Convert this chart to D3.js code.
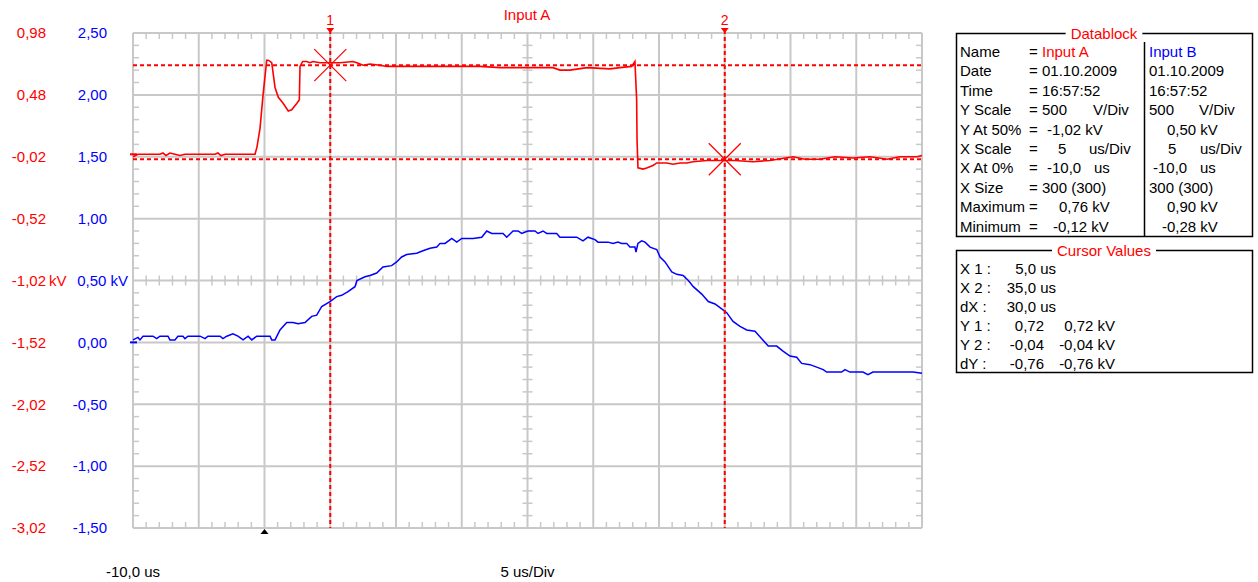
<!DOCTYPE html>
<html lang="en">
  <head>
    <meta charset="UTF-8" />
    <script src="https://d3js.org/d3.v7.min.js"></script>
    <title>Input A</title>
    <style>
      body { margin: 0; background: #fff; }
      svg text { font-family: "Liberation Sans", Arial, sans-serif; font-size: 15px; }
    </style>
  </head>
  <body>
    <svg id="scope" width="1258" height="582"></svg>
    <script>
      // trace A (red), time in us, value in kV
      const timeA = [-10.0, -9.62, -7.95, -7.72, -7.49, -7.19, -6.81, -6.43, -6.05, -5.06, -3.76, -3.54, -3.31, -3.0, -0.72,
        -0.57, -0.34, -0.11, 0.17, 0.29, 0.55, 0.8, 1.05, 1.43, 1.81, 2.07, 2.45, 2.65, 2.7, 2.9, 3.21, 3.46, 3.69,
        4.22, 4.73, 5.21, 5.74, 6.73, 7.03, 7.49, 8.02, 8.78, 9.29, 11.83, 14.11, 16.39, 17.91, 19.43, 21.94, 22.47,
        23.23, 24.52, 26.27, 27.03, 27.92, 28.17, 28.3, 28.33, 28.4, 28.78, 29.06, 29.54, 29.83, 30.59, 31.06, 31.6,
        32.11, 32.59, 33.63, 34.64, 35.78, 37.15, 38.44, 40.19, 41.1, 42.24, 43.38, 44.75, 46.05, 47.34, 48.33, 49.62, 50.0];
      const valueA = [-0.02, 0.0, 0.0, 0.01, -0.01, 0.01, 0.0, -0.01, 0.0, 0.0, 0.0, 0.01, -0.01, 0.0, 0.0,
        0.06, 0.21, 0.48, 0.76, 0.76, 0.74, 0.54, 0.46, 0.41, 0.35, 0.36, 0.41, 0.44, 0.71, 0.75, 0.75, 0.74, 0.75,
        0.74, 0.74, 0.74, 0.74, 0.75, 0.74, 0.72, 0.73, 0.72, 0.71, 0.71, 0.71, 0.71, 0.7, 0.7, 0.7, 0.68,
        0.68, 0.7, 0.69, 0.7, 0.71, 0.75, 0.44, 0.12, -0.11, -0.12, -0.11, -0.09, -0.07, -0.07, -0.08, -0.07,
        -0.07, -0.06, -0.05, -0.05, -0.05, -0.06, -0.05, -0.02, -0.04, -0.04, -0.02, -0.03, -0.02, -0.04, -0.02, -0.02, -0.01];

      // trace B (blue)
      const timeB = [-10.0, -9.62, -9.47, -9.24, -8.48, -8.2, -7.95, -7.34, -7.19, -6.81, -6.58, -6.2, -6.05, -5.82, -4.9,
        -4.52, -4.3, -3.38, -3.16, -2.87, -2.4, -2.02, -1.63, -1.25, -0.97, -0.59, 0.42, 0.55, 0.8, 1.18, 1.69, 2.17,
        2.55, 3.08, 3.59, 3.97, 4.35, 4.98, 5.49, 5.87, 6.35, 6.88, 7.03, 7.64, 8.02, 8.53, 9.01, 9.67, 10.05, 10.43,
        10.81, 11.57, 12.05, 12.59, 13.1, 13.35, 13.73, 14.24, 14.62, 15.0, 15.86, 16.52, 16.9, 17.28, 18.14, 18.42,
        18.9, 19.28, 19.56, 20.04, 20.57, 20.8, 21.18, 21.46, 22.22, 22.47, 23.74, 24.22, 24.6, 24.88, 25.13, 25.36,
        26.12, 26.5, 26.88, 27.16, 27.54, 27.79, 28.17, 28.25, 28.4, 28.68, 28.94, 29.32, 29.83, 30.08, 30.46, 30.97,
        31.35, 31.83, 32.23, 32.61, 33.25, 33.75, 34.26, 34.64, 35.15, 35.63, 36.16, 36.67, 37.3, 37.81, 38.31, 38.95,
        39.43, 39.96, 40.47, 40.85, 41.48, 41.99, 42.49, 42.75, 43.89, 44.14, 44.52, 45.51, 45.89, 46.27, 47.31, 48.33,
        49.32, 50.0];
      const valueB = [0.02, 0.04, 0.02, 0.05, 0.05, 0.03, 0.05, 0.05, 0.02, 0.02, 0.05, 0.05, 0.03, 0.05, 0.05,
        0.03, 0.05, 0.05, 0.03, 0.05, 0.07, 0.05, 0.02, 0.05, 0.02, 0.05, 0.05, 0.02, 0.02, 0.1, 0.16, 0.16,
        0.15, 0.16, 0.21, 0.22, 0.29, 0.33, 0.37, 0.38, 0.41, 0.45, 0.5, 0.53, 0.54, 0.56, 0.61, 0.62, 0.65, 0.69,
        0.71, 0.72, 0.74, 0.76, 0.77, 0.8, 0.8, 0.84, 0.81, 0.84, 0.84, 0.85, 0.9, 0.88, 0.88, 0.85,
        0.9, 0.9, 0.88, 0.9, 0.9, 0.88, 0.9, 0.88, 0.88, 0.85, 0.85, 0.82, 0.85, 0.84, 0.83, 0.81,
        0.81, 0.8, 0.81, 0.8, 0.8, 0.77, 0.77, 0.73, 0.8, 0.82, 0.81, 0.77, 0.75, 0.69, 0.65, 0.57,
        0.55, 0.54, 0.5, 0.45, 0.39, 0.33, 0.31, 0.28, 0.24, 0.17, 0.13, 0.1, 0.09, 0.03, -0.03, -0.03,
        -0.07, -0.11, -0.12, -0.17, -0.18, -0.2, -0.22, -0.24, -0.24, -0.22, -0.24, -0.24, -0.26, -0.24, -0.24, -0.24,
        -0.24, -0.25];

      const ticksA = [0.98, 0.48, -0.02, -0.52, -1.02, -1.52, -2.02, -2.52, -3.02];
      const ticksB = [2.5, 2.0, 1.5, 1.0, 0.5, 0.0, -0.5, -1.0, -1.5];
      const timeGrid = [-10, -5, 0, 5, 10, 15, 20, 25, 30, 35, 40, 45, 50];

      const cursorX = [5.0, 35.0];
      const cursorY = [0.72, -0.04];

      const blockLabels = ["Name", "Date", "Time", "Y Scale", "Y At 50%", "X Scale", "X At 0%", "X Size", "Maximum", "Minimum"];
      const cursorLabels = ["X 1 :", "X 2 :", "dX :", "Y 1 :", "Y 2 :", "dY :"];

      const RED = "#ff0000", BLUE = "#0000ff", GRID = "#c8c8c8";
      const svg = d3.select("#scope");

      const x = d3.scaleLinear().domain([-10, 50]).range([133, 922]);
      const yA = d3.scaleLinear().domain([-3.02, 0.98]).range([528, 33]);
      const yB = d3.scaleLinear().domain([-1.5, 2.5]).range([528, 33]);
      const loc = d3.formatLocale({ decimal: ",", thousands: ".", grouping: [3], currency: ["", ""], minus: "-" });
      const f2 = loc.format(".2f"), f1 = loc.format(".1f");
      const fmt = (v) => f2(Math.abs(v) < 0.005 ? 0 : v);

      // grid
      const grid = svg.append("g").attr("stroke", GRID).attr("stroke-width", 2);
      grid.selectAll("line.v").data(timeGrid).join("line")
        .attr("x1", (d) => x(d)).attr("x2", (d) => x(d)).attr("y1", 33).attr("y2", 528);
      grid.selectAll("line.h").data(ticksB).join("line")
        .attr("y1", (d) => yB(d)).attr("y2", (d) => yB(d)).attr("x1", 133).attr("x2", 922);

      // minor ticks on border and centre cross
      const minorT = d3.range(-10, 50.001, 1).filter((t) => Math.abs(t % 5) > 0.001);
      const minorV = d3.range(-1.5, 2.501, 0.1).filter((v) => Math.abs(Math.round(v * 10) % 5) !== 0);
      const ticks = svg.append("g").attr("stroke", GRID).attr("stroke-width", 1.5);
      const tickRows = [[33, 0, 6], [528, -6, 0], [yB(0.5), -5, 5]];
      tickRows.forEach(([yy, a, b]) => {
        ticks.append("g").selectAll("line").data(minorT).join("line")
          .attr("x1", (d) => x(d)).attr("x2", (d) => x(d)).attr("y1", yy + a).attr("y2", yy + b);
      });
      const tickCols = [[133, 0, 6], [922, -6, 0], [x(20), -5, 5]];
      tickCols.forEach(([xx, a, b]) => {
        ticks.append("g").selectAll("line").data(minorV).join("line")
          .attr("y1", (d) => yB(d)).attr("y2", (d) => yB(d)).attr("x1", xx + a).attr("x2", xx + b);
      });

      // channel ground markers
      svg.append("line").attr("x1", 130).attr("x2", 137).attr("y1", yA(0)).attr("y2", yA(0)).attr("stroke", RED).attr("stroke-width", 2);
      svg.append("line").attr("x1", 130).attr("x2", 137).attr("y1", yB(0)).attr("y2", yB(0)).attr("stroke", BLUE).attr("stroke-width", 2);

      // y labels
      svg.append("g").selectAll("text").data(ticksA).join("text")
        .attr("x", 46).attr("y", (d) => yA(d)).attr("dy", "0.35em")
        .attr("fill", RED).attr("text-anchor", "end").text((d) => fmt(d));
      svg.append("text").attr("x", 49).attr("y", yA(-1.02)).attr("dy", "0.35em").attr("fill", RED).text("kV");
      svg.append("g").selectAll("text").data(ticksB).join("text")
        .attr("x", (d) => (d === 0.5 ? 128 : 107)).attr("y", (d) => yB(d)).attr("dy", "0.35em")
        .attr("fill", BLUE).attr("text-anchor", "end").text((d) => (d === 0.5 ? fmt(d) + " kV" : fmt(d)));

      // traces
      const lineA = d3.line().x((d, i) => x(timeA[i])).y((d) => yA(d));
      const lineB = d3.line().x((d, i) => x(timeB[i])).y((d) => yB(d));
      svg.append("path").attr("d", lineB(valueB)).attr("fill", "none").attr("stroke", BLUE).attr("stroke-width", 1.5);
      svg.append("path").attr("d", lineA(valueA)).attr("fill", "none").attr("stroke", RED).attr("stroke-width", 1.6);

      // cursors
      const cur = svg.append("g").attr("stroke", RED).attr("stroke-width", 2).attr("stroke-dasharray", "4,3");
      cur.selectAll("line.cx").data(cursorX).join("line")
        .attr("x1", (d) => x(d)).attr("x2", (d) => x(d)).attr("y1", 30).attr("y2", 528);
      cur.selectAll("line.cy").data(cursorY).join("line")
        .attr("y1", (d) => yA(d)).attr("y2", (d) => yA(d)).attr("x1", 133).attr("x2", 922);

      const star = svg.append("g").attr("stroke", RED).attr("stroke-width", 1.2);
      cursorX.forEach((t, i) => {
        const cx = x(t), cy = yA(cursorY[i]);
        star.append("line").attr("x1", cx - 16).attr("y1", cy - 16).attr("x2", cx + 16).attr("y2", cy + 16);
        star.append("line").attr("x1", cx + 16).attr("y1", cy - 16).attr("x2", cx - 16).attr("y2", cy + 16);
        svg.append("path").attr("d", `M${cx - 4},28L${cx + 4},28L${cx},33Z`).attr("fill", RED);
        svg.append("text").attr("x", cx).attr("y", 25).attr("text-anchor", "middle")
          .attr("fill", RED).style("font-size", "14px").text(i + 1);
      });

      // trigger marker
      svg.append("path").attr("d", `M${x(0) - 4},534L${x(0) + 4},534L${x(0)},529Z`).attr("fill", "#000");

      svg.append("text").attr("x", 527).attr("y", 20).attr("text-anchor", "middle").attr("fill", RED).text("Input A");
      svg.append("text").attr("x", x(-10)).attr("y", 577).attr("text-anchor", "middle").text("-10,0 us");
      svg.append("text").attr("x", x(20)).attr("y", 577).attr("text-anchor", "middle").text("5 us/Div");

      // framed boxes
      const frame = (top, bottom, title) => {
        svg.append("rect").attr("x", 956.5).attr("y", top + 0.5).attr("width", 296).attr("height", bottom - top)
          .attr("fill", "none").attr("stroke", "#000").attr("stroke-width", 1.5);
        const bg = svg.append("rect").attr("fill", "#fff");
        const t = svg.append("text").attr("x", 1104).attr("y", top + 5.5).attr("text-anchor", "middle")
          .attr("fill", RED).text(title);
        const w = t.node().getComputedTextLength();
        bg.attr("x", 1104 - w / 2 - 5).attr("y", top - 4).attr("width", w + 10).attr("height", 9);
      };
      frame(33, 236, "Datablock");
      svg.append("line").attr("x1", 1144.5).attr("x2", 1144.5).attr("y1", 42).attr("y2", 236)
        .attr("stroke", "#000").attr("stroke-width", 1.5);

      const rowY = (i) => 57 + i * 19.4;
      const put = (xx, i, s, color, anchor) =>
        svg.append("text").attr("x", xx).attr("y", rowY(i)).attr("fill", color || "#000")
          .attr("text-anchor", anchor || "start").text(s);
      blockLabels.forEach((s, i) => { put(960, i, s); put(1029, i, "="); });
      put(1042, 0, "Input A", RED); put(1149, 0, "Input B", BLUE);
      put(1042, 1, "01.10.2009"); put(1149, 1, "01.10.2009");
      put(1042, 2, "16:57:52"); put(1149, 2, "16:57:52");
      put(1042, 3, "500"); put(1093, 3, "V/Div"); put(1149, 3, "500"); put(1199, 3, "V/Div");
      put(1047, 4, "-1,02 kV"); put(1167, 4, "0,50 kV");
      put(1058, 5, "5"); put(1089, 5, "us/Div"); put(1168, 5, "5"); put(1200, 5, "us/Div");
      put(1047, 6, "-10,0"); put(1094, 6, "us"); put(1153, 6, "-10,0"); put(1200, 6, "us");
      put(1042, 7, "300 (300)"); put(1149, 7, "300 (300)");
      put(1059, 8, "0,76 kV"); put(1167, 8, "0,90 kV");
      put(1053, 9, "-0,12 kV"); put(1162, 9, "-0,28 kV");

      frame(250, 372, "Cursor Values");
      const cy0 = (i) => 273.5 + i * 19;
      cursorLabels.forEach((s, i) => svg.append("text").attr("x", 960).attr("y", cy0(i)).text(s));
      const dx = cursorX[1] - cursorX[0], dy = cursorY[1] - cursorY[0];
      [cursorX[0], cursorX[1], dx].forEach((v, i) =>
        svg.append("text").attr("x", 1056).attr("y", cy0(i)).attr("text-anchor", "end").text(f1(v) + " us"));
      [cursorY[0], cursorY[1], dy].forEach((v, i) => {
        svg.append("text").attr("x", 1044).attr("y", cy0(i + 3)).attr("text-anchor", "end").text(fmt(v));
        svg.append("text").attr("x", 1115).attr("y", cy0(i + 3)).attr("text-anchor", "end").text(fmt(v) + " kV");
      });
    </script>
  </body>
</html>
